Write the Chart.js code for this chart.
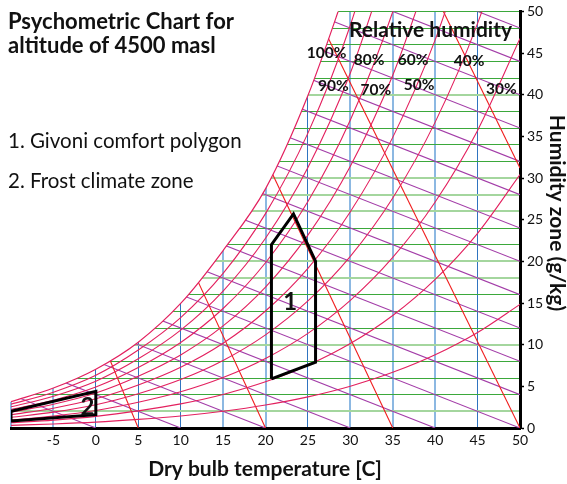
<!DOCTYPE html>
<html><head><meta charset="utf-8">
<script src="https://cdn.jsdelivr.net/npm/chart.js@4.4.0/dist/chart.umd.min.js"></script>
<style>html,body{margin:0;padding:0;background:#fff;}#wrap{width:567px;height:484px;position:relative}</style>
</head><body><div id="wrap"><canvas id="c" width="567" height="484"></canvas></div>
<script>
// ---- data (dry bulb °C, humidity g/kg) ----
const temps = [-10,-5,0,5,10,15,20,25,30,35,40,45,50];
const rh100 = [3.15,4.8,7.06,10.3,14.95,21.3,28.7,39.9,54.2];
const rh90  = [2.86,4.30,6.33,9.36,13.25,18.55,25.73,35.39,48.34,65.7];
const rh80  = [2.54,3.82,5.62,8.30,11.75,16.44,22.77,31.26,42.60,57.76];
const rh70  = [2.22,3.34,4.91,7.25,10.26,14.34,19.83,27.18,36.96,49.96,67.2];
const rh60  = [1.90,2.86,4.20,6.21,8.77,12.25,16.92,23.15,31.42,42.33,56.74];
const rh50  = [1.59,2.38,3.50,5.16,7.29,10.17,14.04,19.17,25.96,34.88,46.58,61.9];
const rh40  = [1.27,1.91,2.80,4.12,5.82,8.11,11.18,15.25,20.60,27.60,36.71,48.56,63.9];
const rh30  = [0.95,1.43,2.10,3.09,4.35,6.06,8.35,11.36,15.32,20.47,27.13,35.72,46.76];
const rh20  = [0.63,0.95,1.40,2.06,2.90,4.03,5.54,7.53,10.13,13.50,17.83,23.37,30.41];
const rh10  = [0.32,0.48,0.70,1.03,1.44,2.01,2.76,3.74,5.02,6.68,8.79,11.47,14.84];
const rhCurves = [rh90,rh80,rh70,rh60,rh50,rh40,rh30,rh20,rh10];

// wet-bulb lines: [Tstart, Wstart, Tend, Wend]
const wetBulbLines = [
  [-10,4,0,0],[-10,8,10,0],[-10,12,20,0],[-10,16,30,0],[-10,20,40,0],[-10,24,50,0],
  [-10,28,50,4],[-10,32,50,8],[-10,36,50,12],[-10,40,50,16],[-10,44,50,20],[-10,48,50,24],
  [-10,52,50,28],[-10,56,50,32],[-10,60,50,36],[-10,64,50,40],[-10,68,50,44],[-10,72,50,48]
];
// specific volume lines: [Tstart, Wstart, Tend, Wend]
const volumeLines = [
  [0,12.25,5,0],[10,22.1,20,0],[20,32.25,35,0],[25,51.75,50,0],[40,52,50,31.2]
];
// zones
const givoniT = [20.7,25.9,25.9,23.3,20.7,20.7];
const givoniW = [5.9,7.9,20.0,25.7,22.0,5.9];
const frostT = [-10,0,0,-10,-10];
const frostW = [0.85,1.6,4.4,2.0,0.85];

const rhLabels = ['100%','90%','80%','70%','60%','50%','40%','30%'];
const xTicks = ['','-5','0','5','10','15','20','25','30','35','40','45','50'];

// ---- label placement (data coords) ----
const rhLabelPos = [[27.2,45.0],[28.0,41.0],[32.2,44.2],[33.0,40.6],[37.4,44.2],[38.1,41.2],[44.0,44.0],[47.8,40.7]];

function pts(xsArr, ysArr){ return ysArr.map((v,i)=>({x:xsArr[i], y:v})); }

const PINK='#e3215f', RED='#f01c1c', PURPLE='#a33da8';
const SAT_INDEX = 2;
const datasets = [];
datasets.push({data:pts(givoniT,givoniW), borderColor:'#000', borderWidth:3, tension:0});
datasets.push({data:pts(frostT,frostW), borderColor:'#000', borderWidth:3, tension:0});
datasets.push({data:pts(temps,rh100), borderColor:PINK, borderWidth:1.2, cubicInterpolationMode:'monotone'});
rhCurves.forEach(c=>datasets.push({data:pts(temps,c), borderColor:PINK, borderWidth:1.1, cubicInterpolationMode:'monotone'}));
volumeLines.forEach(l=>datasets.push({data:[{x:l[0],y:l[1]},{x:l[2],y:l[3]}], borderColor:RED, borderWidth:1.1}));
wetBulbLines.forEach(l=>datasets.push({data:[{x:l[0],y:l[1]},{x:l[2],y:l[3]}], borderColor:PURPLE, borderWidth:1.1}));
datasets.forEach(d=>{d.showLine=true; d.pointRadius=0; d.pointHoverRadius=0;});

const blueDark = [0,5,10,25,45];
const greenLight = [2,10,18,20,26,28,30,40];

// white out everything above/left of the saturation curve
const maskPlugin = {
  id:'satMask',
  beforeDatasetDraw(chart, args){
    if(args.index !== SAT_INDEX) return;
    const line = chart.getDatasetMeta(SAT_INDEX).dataset;
    const p = line.points; if(!p.length) return;
    const ctx = chart.ctx;
    ctx.save();
    ctx.beginPath();
    line.path(ctx);
    const last = p[p.length-1], first = p[0];
    ctx.lineTo(last.x, -60);
    ctx.lineTo(-10, -60);
    ctx.lineTo(-10, first.y);
    ctx.closePath();
    ctx.fillStyle = '#fff';
    ctx.fill();
    ctx.restore();
  }
};

const textPlugin = {
  id:'texts',
  afterDraw(chart){
    const ctx=chart.ctx, xs=chart.scales.x, ys=chart.scales.y;
    ctx.save();
    ctx.fillStyle='#111';
    ctx.textAlign='left'; ctx.textBaseline='alphabetic';
    ctx.font='bold 22px Lato';
    ctx.fillText('Psychometric Chart for',8,29);
    ctx.fillText('altitude of 4500 masl',8,53);
    ctx.font='20.5px Lato';
    ctx.fillText('1. Givoni comfort polygon',8,148);
    ctx.fillText('2. Frost climate zone',8,188);
    ctx.font='bold 21px Lato';
    ctx.fillText('Relative humidity',349,37);
    ctx.textAlign='center'; ctx.textBaseline='middle';
    ctx.font='bold 15.5px Lato';
    rhLabels.forEach((t,i)=>ctx.fillText(t, xs.getPixelForValue(rhLabelPos[i][0]), ys.getPixelForValue(rhLabelPos[i][1])));
    ctx.font='bold 24px Lato';
    ctx.fillText('1', xs.getPixelForValue(22.9), ys.getPixelForValue(15.1));
    ctx.fillText('2', xs.getPixelForValue(-1.0), ys.getPixelForValue(2.5));
    ctx.font='bold 21px Lato';
    ctx.fillText('Dry bulb temperature [C]',265,469);
    ctx.translate(557,213); ctx.rotate(Math.PI/2);
    ctx.fillText('Humidity zone (g/kg)',0,0);
    ctx.restore();
  }
};

new Chart(document.getElementById('c'),{
  type:'scatter',
  data:{datasets},
  options:{
    responsive:false, animation:false, devicePixelRatio:1,
    layout:{padding:{left:11,top:10,right:0,bottom:0}},
    plugins:{legend:{display:false}, tooltip:{enabled:false}},
    scales:{
      x:{type:'linear', position:'bottom', min:-10, max:50,
        afterFit(s){s.height=56;},
        ticks:{stepSize:5, autoSkip:false, maxRotation:0, padding:4, color:'#111', font:{family:'Lato',size:14},
          callback:(v,i)=>xTicks[i]},
        grid:{drawTicks:false,
          color:c=>blueDark.includes(c.tick&&c.tick.value)?'#2f74c0':'#8cb8e2',
          lineWidth:c=>blueDark.includes(c.tick&&c.tick.value)?1:2},
        border:{display:true,color:'#000',width:3}},
      y:{type:'linear', position:'right', min:0, max:50,
        afterFit(s){s.width=47;},
        ticks:{stepSize:5, padding:3, color:'#111', font:{family:'Lato',size:14}},
        grid:{drawOnChartArea:false, drawTicks:true, tickLength:4, tickColor:'#000', tickWidth:1.5},
        border:{display:true,color:'#000',width:3}},
      yg:{type:'linear', position:'left', min:0, max:50,
        afterFit(s){s.width=0;},
        ticks:{display:false, stepSize:2},
        grid:{drawTicks:false,
          color:c=>greenLight.includes(c.tick&&c.tick.value)?'#a4d69e':'#3ba83b',
          lineWidth:c=>greenLight.includes(c.tick&&c.tick.value)?2:1},
        border:{display:false}}
    }
  },
  plugins:[maskPlugin, textPlugin]
});
</script></body></html>
